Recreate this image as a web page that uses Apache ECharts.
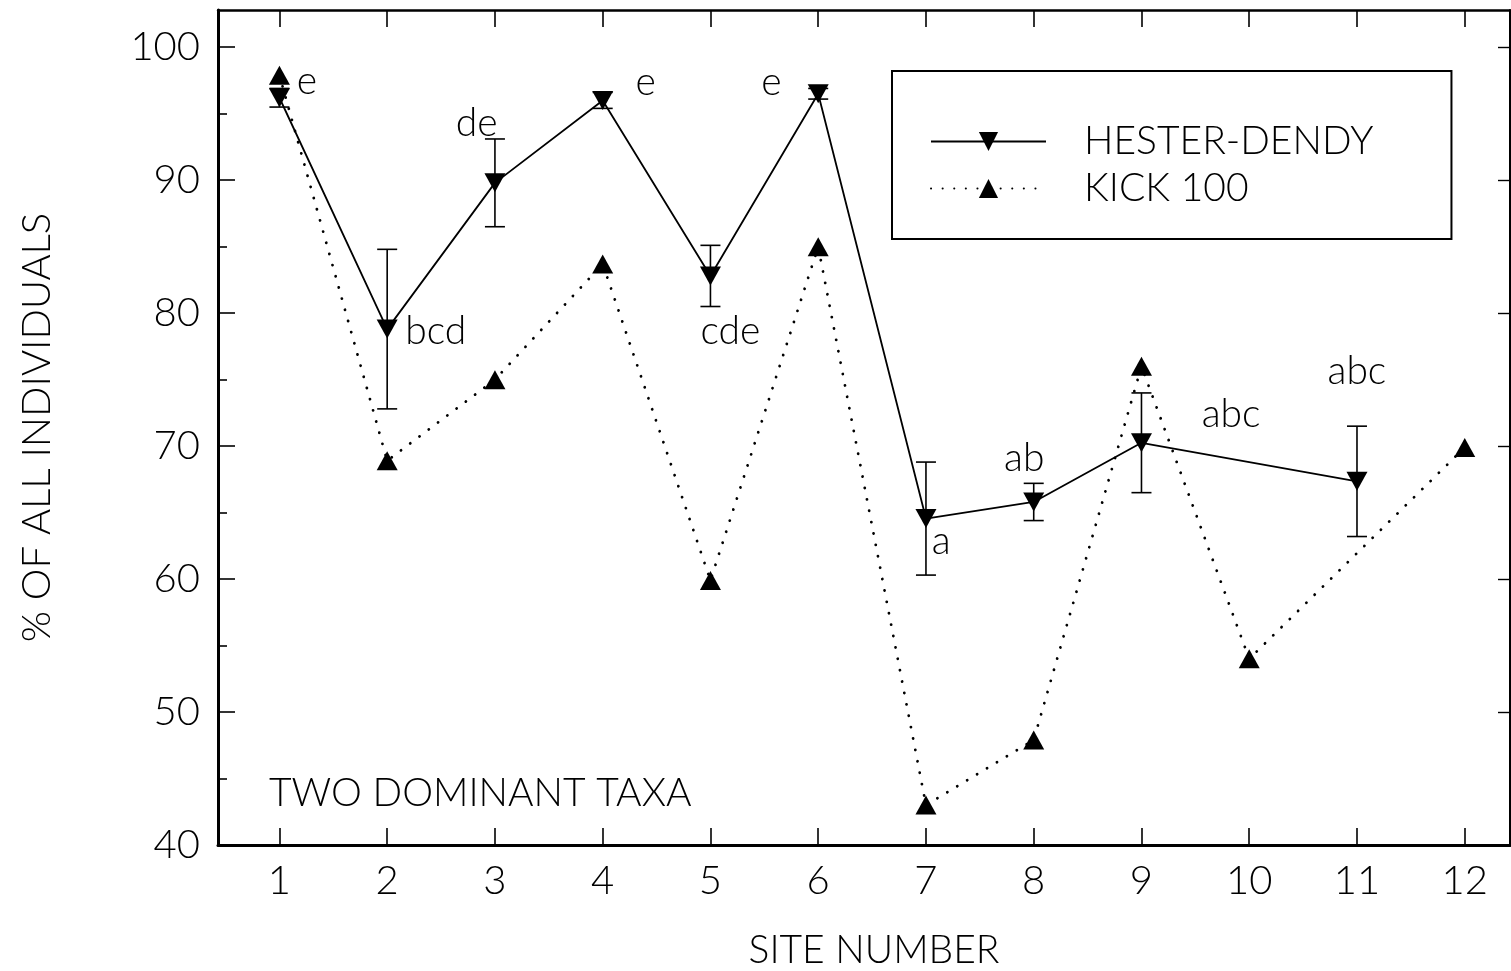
<!DOCTYPE html>
<html>
<head>
<meta charset="utf-8">
<script src="https://cdn.jsdelivr.net/npm/echarts@6/dist/echarts.min.js"></script>
<style>
html,body{margin:0;padding:0;background:#fff;}
#chart{width:1511px;height:971px;}
</style>
</head>
<body>
<div id="chart"></div>
<script>
// ---- data ----
const sites = [1, 2, 3, 4, 5, 6, 7, 8, 9, 10, 11, 12];
const hesterDendy    = [96.2, 78.8, 89.8, 96.0, 82.8, 96.5, 64.55, 65.8, 70.25, null, 67.35, null];
const hesterDendyErr = [0.7, 6.0, 3.3, 0.6, 2.3, 0.4, 4.25, 1.4, 3.75, null, 4.15, null];
const kick100        = [97.9, 68.9, 75.0, 83.7, 59.9, 85.0, 43.0, 47.9, 76.0, 54.0, null, 69.9];
const yTicks = [40, 50, 60, 70, 80, 90, 100];
const yMinorTicks = [45, 55, 65, 75, 85, 95];
// group letters: position (site, value) and text
const groupLetterX = [1.255, 2.451, 2.831, 4.398, 5.186, 5.566, 7.142, 7.912, 9.831, 10.999];
const groupLetterY = [97.4, 78.66, 94.25, 97.35, 78.66, 97.35, 62.8, 69.1, 72.35, 75.6];
const groupLetters = ['e', 'bcd', 'de', 'e', 'cde', 'e', 'a', 'ab', 'abc', 'abc'];

const FONT = 'Lato';
const FW = 300;
const FS = 39;

const hdData = [];
const errData = [];
sites.forEach((s, i) => {
  if (hesterDendy[i] != null) {
    hdData.push([s, hesterDendy[i]]);
    errData.push([s, hesterDendy[i] - hesterDendyErr[i], hesterDendy[i] + hesterDendyErr[i]]);
  }
});
const kData = [];
sites.forEach((s, i) => { if (kick100[i] != null) kData.push([s, kick100[i]]); });
const letterData = groupLetters.map((t, i) => ({ value: [groupLetterX[i], groupLetterY[i]], name: t }));

const chart = echarts.init(document.getElementById('chart'), null, { renderer: 'canvas' });

const baseX = {
  type: 'value', min: 0.43, max: 12.42,
  splitLine: { show: false }
};
const baseY = {
  type: 'value', min: 40, max: 102.8,
  splitLine: { show: false }
};

const option = {
  animation: false,
  backgroundColor: '#fff',
  textStyle: { fontFamily: FONT, fontWeight: FW, color: '#000' },
  grid: { left: 218, right: 1, top: 10, bottom: 126, outerBoundsMode: 'none', show: false },
  title: {
    text: 'TWO DOMINANT TAXA',
    left: 264, top: 769,
    textStyle: { fontFamily: FONT, fontWeight: FW, fontSize: FS, color: '#000' }
  },
  legend: {
    orient: 'vertical',
    left: 892, top: 71,
    padding: [51, 78, 31, 38],
    itemWidth: 115, itemHeight: 24, itemGap: 8,
    borderColor: '#000', borderWidth: 2,
    selectedMode: false,
    data: ['HESTER-DENDY', 'KICK 100'],
    textStyle: { fontFamily: FONT, fontWeight: FW, fontSize: FS, color: '#000', lineHeight: 38, padding: [0, 0, 0, 33] }
  },
  xAxis: [
    Object.assign({}, baseX, {
      position: 'bottom',
      name: 'SITE NUMBER', nameLocation: 'middle', nameGap: 86,
      nameTextStyle: { fontFamily: FONT, fontWeight: FW, fontSize: FS, color: '#000', padding: [0, 0, 0, 20] },
      axisLine: { onZero: false, lineStyle: { color: '#000', width: 3 } },
      axisTick: { inside: true, length: 17, customValues: sites, lineStyle: { color: '#000', width: 1.6 } },
      axisLabel: { customValues: sites, margin: 16, fontFamily: FONT, fontWeight: FW, fontSize: FS + 1, color: '#000' }
    }),
    Object.assign({}, baseX, {
      position: 'top',
      axisLine: { onZero: false, lineStyle: { color: '#000', width: 2.5 } },
      axisTick: { inside: true, length: 17, customValues: sites, lineStyle: { color: '#000', width: 1.6 } },
      axisLabel: { show: false }
    })
  ],
  yAxis: [
    Object.assign({}, baseY, {
      position: 'left',
      name: '% OF ALL INDIVIDUALS', nameLocation: 'middle', nameGap: 161,
      nameTextStyle: { fontFamily: FONT, fontWeight: FW, fontSize: FS + 1, color: '#000' },
      axisLine: { onZero: false, lineStyle: { color: '#000', width: 3 } },
      axisTick: { inside: true, length: 17, customValues: yTicks, lineStyle: { color: '#000', width: 1.6 } },
      axisLabel: { customValues: yTicks, margin: 18, fontFamily: FONT, fontWeight: FW, fontSize: FS + 1, color: '#000' }
    }),
    Object.assign({}, baseY, {
      position: 'left',
      axisLine: { show: false },
      axisTick: { inside: true, length: 9, customValues: yMinorTicks, lineStyle: { color: '#000', width: 1.6 } },
      axisLabel: { show: false }
    }),
    Object.assign({}, baseY, {
      position: 'right',
      axisLine: { onZero: false, lineStyle: { color: '#000', width: 2 } },
      axisTick: { inside: true, length: 12, customValues: yTicks, lineStyle: { color: '#000', width: 1.4 } },
      axisLabel: { show: false }
    })
  ],
  series: [
    {
      name: 'HESTER-DENDY', type: 'line', xAxisIndex: 0, yAxisIndex: 0,
      data: hdData,
      symbol: 'triangle', symbolRotate: 180, symbolSize: [21, 19],
      itemStyle: { color: '#000' },
      lineStyle: { color: '#000', width: 1.8, type: 'solid' },
      z: 4
    },
    {
      name: 'KICK 100', type: 'line', xAxisIndex: 0, yAxisIndex: 0,
      data: kData,
      symbol: 'triangle', symbolSize: [21, 19],
      itemStyle: { color: '#000' },
      lineStyle: { color: '#000', width: 2.8, type: [0.1, 11.5], cap: 'round' },
      z: 3
    },
    {
      name: 'errors', type: 'custom', xAxisIndex: 0, yAxisIndex: 0,
      data: errData,
      z: 2,
      renderItem: function (params, api) {
        const x = api.value(0);
        const lo = api.coord([x, api.value(1)]);
        const hi = api.coord([x, api.value(2)]);
        const hw = 10;
        const st = { stroke: '#000', lineWidth: 1.6 };
        return {
          type: 'group',
          children: [
            { type: 'line', shape: { x1: hi[0], y1: hi[1], x2: lo[0], y2: lo[1] }, style: st },
            { type: 'line', shape: { x1: hi[0] - hw, y1: hi[1], x2: hi[0] + hw, y2: hi[1] }, style: st },
            { type: 'line', shape: { x1: lo[0] - hw, y1: lo[1], x2: lo[0] + hw, y2: lo[1] }, style: st }
          ]
        };
      }
    },
    {
      name: 'letters', type: 'scatter', xAxisIndex: 0, yAxisIndex: 0,
      data: letterData,
      symbolSize: 0,
      itemStyle: { opacity: 1, color: '#000' },
      z: 5,
      label: {
        show: true, position: 'inside', opacity: 1,
        formatter: function (p) { return p.name; },
        fontFamily: FONT, fontWeight: FW, fontSize: FS, color: '#000',
        textBorderWidth: 0
      }
    }
  ]
};
chart.setOption(option);
</script>
</body>
</html>
